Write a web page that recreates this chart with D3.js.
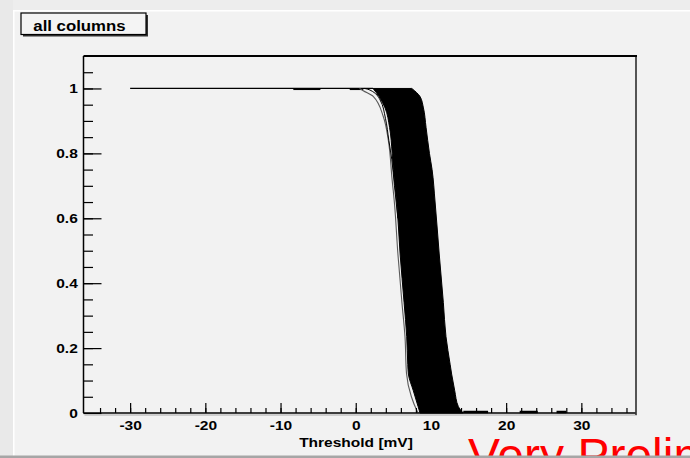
<!DOCTYPE html>
<html>
<head>
<meta charset="utf-8">
<script src="https://cdn.jsdelivr.net/npm/d3@7"></script>
<style>
  body { margin: 0; background: #f2f2f2; }
  svg { display: block; }
</style>
</head>
<body>
<svg id="chart" width="690" height="458"></svg>
<script>
"use strict";

// tick labels
const xTickValues = [-30, -20, -10, 0, 10, 20, 30];
const yTickValues = [0, 0.2, 0.4, 0.6, 0.8, 1];

// the dense bundle of curves, read as its left and right edges
const bandLevels = [1.0, 0.975, 0.94, 0.88, 0.80, 0.75, 0.65, 0.49, 0.34, 0.235, 0.15, 0.12, 0.07, 0.02, 0.0];
const bandLeft   = [2.3, 3.1, 3.9, 4.5, 4.85, 5.0, 5.45, 5.9, 6.43, 6.78, 6.92, 7.0, 7.64, 8.29, 8.55];
const bandRight  = [7.45, 8.55, 9.0, 9.35, 9.8, 10.15, 10.55, 11.1, 11.65, 12.0, 12.55, 12.75, 13.15, 13.64, 14.3];

// the grey curve left of the bundle
const greyLevels = [1.0, 0.993, 0.975, 0.913, 0.841, 0.723, 0.646, 0.492, 0.338, 0.235, 0.122, 0.05, 0.009, 0.0];
const greyX      = [0.5, 1.0, 2.35, 3.67, 4.33, 4.82, 5.15, 5.6, 6.15, 6.55, 6.75, 7.4, 8.1, 8.3];

// thin black curve between the grey one and the bundle
const sideLevels = [1.0, 0.995, 0.965, 0.908, 0.84, 0.78, 0.70, 0.60];
const sideX      = [1.2, 1.9, 3.23, 3.95, 4.4, 4.8, 5.15, 5.6];

// flat pieces at efficiency 1 and 0: [from, to]
const plateauRuns = [[-30, 2.3], [-8.3, -4.7], [-0.8, 1.0]];
const floorRuns   = [[14.3, 17.6], [21.8, 24.2], [26.7, 28.0]];

let svg = d3.select('#chart');

// canvas borders of the screenshot
svg.append('rect').attr('x', 0).attr('y', 0).attr('width', 690).attr('height', 10).style('fill', '#ededed');
svg.append('rect').attr('x', 0).attr('y', 0).attr('width', 13).attr('height', 458).style('fill', '#e9e9e9');
svg.append('rect').attr('x', 13).attr('y', 10).attr('width', 677).attr('height', 1.5).style('fill', '#ffffff');
svg.append('rect').attr('x', 13).attr('y', 10).attr('width', 1.5).attr('height', 448).style('fill', '#ffffff');

let x = d3.scaleLinear().domain([-36.2, 37.2]).range([83.5, 635.5]);
let y = d3.scaleLinear().domain([0, 1.1]).range([413, 56]);

const stretch = 'scale(1.15,1)';

// flat runs
svg.selectAll('line.plateau')
    .data(plateauRuns)
    .enter()
    .append('line')
    .attr('class', 'plateau')
    .attr('x1', d => x(d[0]))
    .attr('x2', d => x(d[1]))
    .attr('y1', (d, i) => y(1) + (i ? 0.6 : 0))
    .attr('y2', (d, i) => y(1) + (i ? 0.6 : 0))
    .style('stroke', '#000')
    .style('stroke-width', (d, i) => i ? 2 : 1.2);

svg.selectAll('line.floor')
    .data(floorRuns)
    .enter()
    .append('line')
    .attr('class', 'floor')
    .attr('x1', d => x(d[0]))
    .attr('x2', d => x(d[1]))
    .attr('y1', y(0) - 1)
    .attr('y2', y(0) - 1)
    .style('stroke', '#000')
    .style('stroke-width', 2.5);

// the bundle
let band = bandLevels.map((v, i) => ({ eff: v, lo: bandLeft[i], hi: bandRight[i] }));

svg.append('path')
    .datum(band)
    .attr('d', d3.area()
        .curve(d3.curveMonotoneY)
        .y(d => y(d.eff))
        .x0(d => x(d.lo))
        .x1(d => x(d.hi)))
    .style('fill', '#000')
    .style('stroke', '#000')
    .style('stroke-width', 1);

let line = d3.line()
    .curve(d3.curveMonotoneY)
    .x(d => x(d[0]))
    .y(d => y(d[1]));

svg.append('path')
    .datum(greyX.map((v, i) => [v, greyLevels[i]]))
    .attr('d', line)
    .style('fill', 'none')
    .style('stroke', '#5a5a5a')
    .style('stroke-width', 1.1);

svg.append('path')
    .datum(sideX.map((v, i) => [v, sideLevels[i]]))
    .attr('d', line)
    .style('fill', 'none')
    .style('stroke', '#000')
    .style('stroke-width', 1);

// axes
function styleTicks(g) {
    g.select('.domain').remove();
    g.selectAll('line').style('stroke', '#000').style('stroke-width', 1.2);
    g.selectAll('text')
        .attr('transform', stretch)
        .style('font-family', '"Liberation Sans", Arial, sans-serif')
        .style('font-weight', 'bold')
        .style('font-size', '13.5px')
        .style('fill', '#000');
}

function minorTicks(g) {
    g.select('.domain').remove();
    g.selectAll('text').remove();
    g.selectAll('line').style('stroke', '#000').style('stroke-width', 1.2);
}

svg.append('g')
    .attr('transform', 'translate(0,' + y(0) + ')')
    .call(d3.axisBottom(x).tickValues(d3.range(-34, 37, 2)).tickSize(-5))
    .call(minorTicks);

svg.append('g')
    .attr('transform', 'translate(0,' + y(0) + ')')
    .call(d3.axisBottom(x).tickValues(xTickValues).tickSize(-10).tickPadding(7.5)
        .tickFormat(d => String(d)))
    .call(styleTicks);

svg.append('g')
    .attr('transform', 'translate(' + x.range()[0] + ',0)')
    .call(d3.axisLeft(y).tickValues(d3.range(0.05, 1.1, 0.05)).tickSize(-9.5))
    .call(minorTicks);

svg.append('g')
    .attr('transform', 'translate(' + x.range()[0] + ',0)')
    .call(d3.axisLeft(y).tickValues(yTickValues).tickSize(-18).tickPadding(5)
        .tickFormat(d => String(d)))
    .call(styleTicks);

// frame
let [fx0, fx1] = x.range();
let [fy0, fy1] = y.range();
svg.append('line').attr('x1', fx0 + 1).attr('x2', fx1 + 1.5).attr('y1', fy0 + 2).attr('y2', fy0 + 2)
    .style('stroke', '#aaa').style('stroke-width', 1);
svg.append('line').attr('x1', fx1 + 0.5).attr('x2', fx1 + 0.5).attr('y1', fy1).attr('y2', fy0 + 2)
    .style('stroke', '#555').style('stroke-width', 2);
svg.append('line').attr('x1', fx0).attr('x2', fx1 + 1.5).attr('y1', fy1).attr('y2', fy1)
    .style('stroke', '#000').style('stroke-width', 2);
svg.append('line').attr('x1', fx0).attr('x2', fx0).attr('y1', fy1).attr('y2', fy0)
    .style('stroke', '#000').style('stroke-width', 1.5);
svg.append('line').attr('x1', fx0).attr('x2', fx1).attr('y1', fy0).attr('y2', fy0)
    .style('stroke', '#000').style('stroke-width', 1.5);

// axis title
svg.append('text')
    .attr('transform', 'translate(356,446.5) ' + stretch)
    .style('text-anchor', 'middle')
    .style('font-family', '"Liberation Sans", Arial, sans-serif')
    .style('font-weight', 'bold')
    .style('font-size', '13.5px')
    .text('Threshold [mV]');

// title box
svg.append('rect').attr('x', 23).attr('y', 15).attr('width', 125).attr('height', 21.5)
    .style('fill', '#333');
svg.append('rect').attr('x', 21).attr('y', 13).attr('width', 125).attr('height', 21.5)
    .style('fill', '#f4f4f4').style('stroke', '#000').style('stroke-width', 1.2);
svg.append('text')
    .attr('transform', 'translate(33.3,31) scale(1.12,1)')
    .style('font-family', '"Liberation Sans", Arial, sans-serif')
    .style('font-weight', 'bold')
    .style('font-size', '15px')
    .text('all columns');

// slide text below the canvas
svg.append('text')
    .attr('x', 468)
    .attr('y', 472)
    .style('font-family', '"Liberation Sans", Arial, sans-serif')
    .style('font-size', '48px')
    .style('fill', '#ff0000')
    .text('Very Preliminary');

svg.append('rect').attr('x', 0).attr('y', 455.5).attr('width', 690).attr('height', 2.5).style('fill', '#a6a6a6');
</script>
</body>
</html>
